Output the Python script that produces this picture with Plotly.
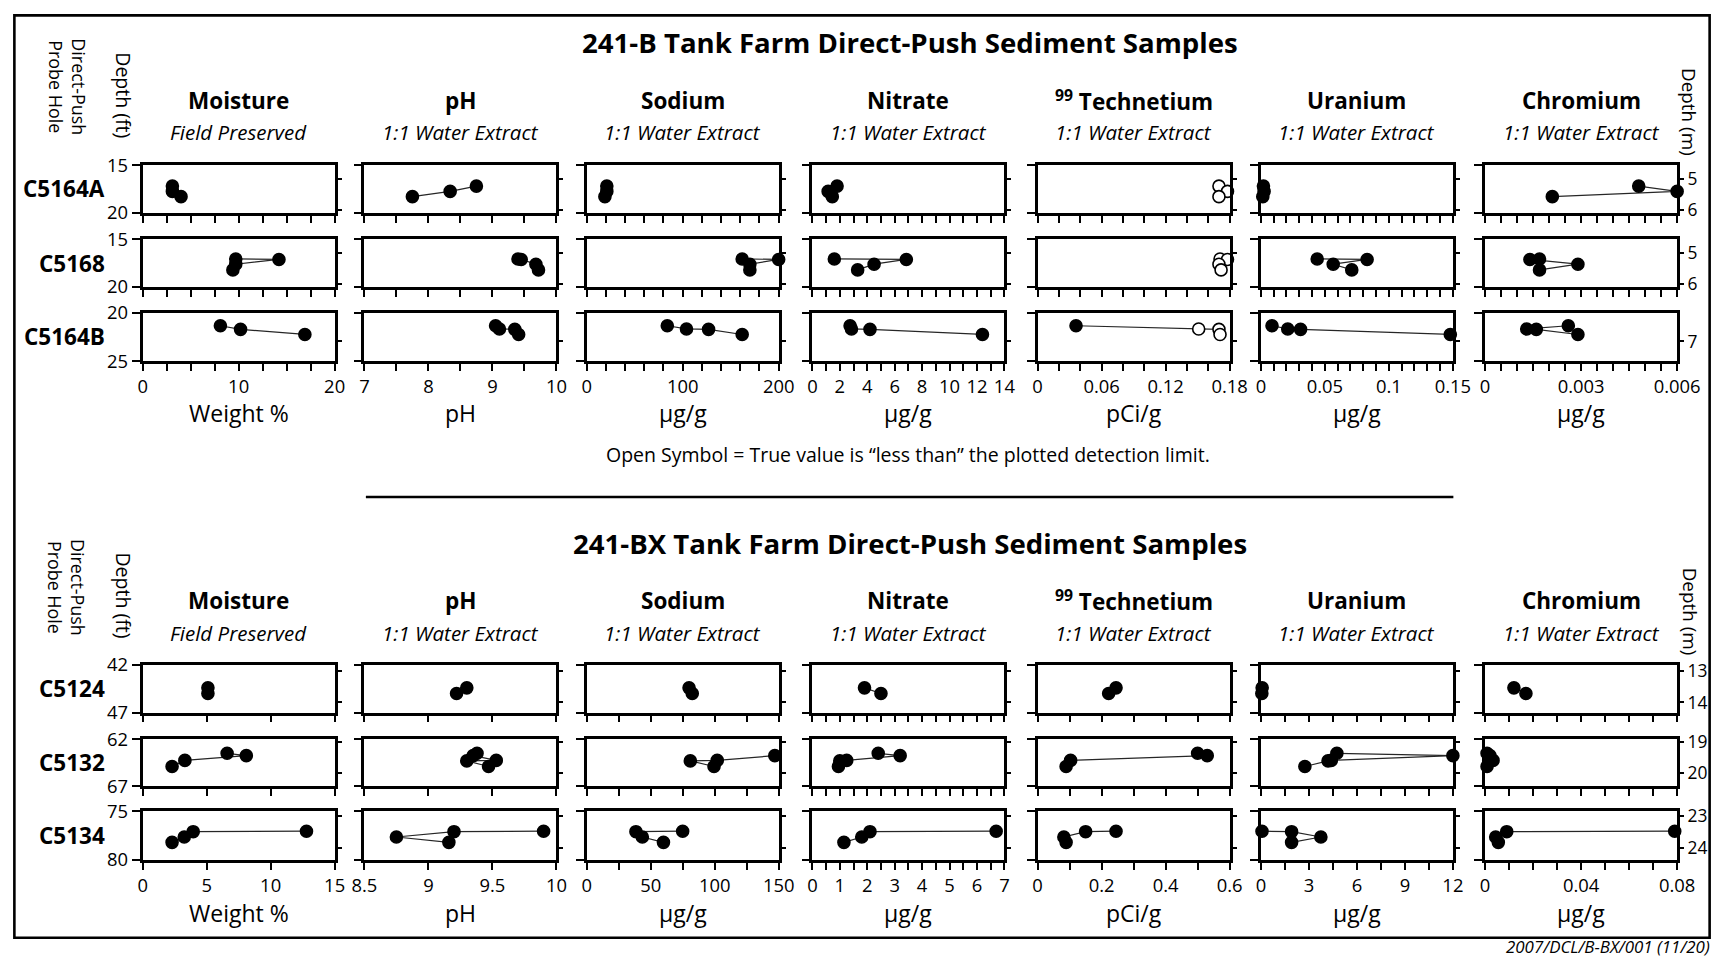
import plotly.graph_objects as go

# Window / figure geometry.  Positions below are taken from the reference in
# window pixels and mapped to the figure with a small calibration (the captured
# picture includes a thin border round the page, so the page is scaled a little).
WIN_W, WIN_H = 1734, 966
W, H = 1734, 966
CAP_PAD = 11.5
SX = (WIN_W + 2 * CAP_PAD) / WIN_W
SY = (WIN_H + 2 * CAP_PAD) / WIN_H
FT_PER_M = 3.28084
FONT = "Open Sans"

# ---------------- 241-B Tank Farm data ----------------
C5164A_depth_ft = [17.2, 17.75, 18.3]
C5164A_moisture = [3.1, 3.1, 4.0]
C5164A_ph = [8.75, 8.34, 7.75]
C5164A_sodium = [21, 21, 19]
C5164A_nitrate = [1.8, 1.15, 1.45]
C5164A_tc99 = [0.170, 0.178, 0.170]
C5164A_tc99_open = [True, True, True]
C5164A_uranium = [0.002, 0.0025, 0.0015]
C5164A_chromium = [0.0048, 0.006, 0.0021]

C5168_depth_ft = [17.05, 17.1, 17.6, 18.2]
C5168_moisture = [9.7, 14.2, 9.7, 9.4]
C5168_ph = [9.4, 9.45, 9.68, 9.72]
C5168_sodium = [162, 200, 170, 170]
C5168_nitrate = [1.6, 6.85, 4.5, 3.3]
C5168_tc99 = [0.171, 0.178, 0.170, 0.172]
C5168_tc99_open = [True, True, True, True]
C5168_uranium = [0.044, 0.083, 0.0565, 0.071]
C5168_chromium = [0.0017, 0.0014, 0.0029, 0.0017]

C5164B_depth_ft = [21.35, 21.68, 21.72, 22.25]
C5164B_moisture = [8.1, None, 10.2, 16.9]
C5164B_ph = [9.05, 9.11, 9.35, 9.41]
C5164B_sodium = [84, 104, 127, 162]
C5164B_nitrate = [2.75, 2.85, 4.2, 12.4]
C5164B_tc99 = [0.036, 0.151, 0.170, 0.171]
C5164B_tc99_open = [False, True, True, True]
C5164B_uranium = [0.0087, 0.021, 0.031, 0.148]
C5164B_chromium = [0.0026, 0.0013, 0.0016, 0.0029]

# ---------------- 241-BX Tank Farm data ----------------
C5124_depth_ft = [44.4, 45.0]
C5124_moisture = [5.1, 5.1]
C5124_ph = [9.30, 9.22]
C5124_sodium = [80, 82.5]
C5124_nitrate = [1.9, 2.5]
C5124_tc99 = [0.245, 0.222]
C5124_tc99_open = [False, False]
C5124_uranium = [0.08, 0.06]
C5124_chromium = [0.012, 0.017]

C5132_depth_ft = [63.5, 63.75, 64.25, 64.3, 64.9]
C5132_moisture = [6.6, 8.1, 3.3, None, 2.3]
C5132_ph = [9.38, 9.35, 9.53, 9.30, 9.47]
C5132_sodium = [151, 147, 102, 81, 99.5]
C5132_nitrate = [2.4, 3.2, 1.25, 1.0, 0.95]
C5132_tc99 = [0.50, 0.53, 0.103, None, 0.089]
C5132_tc99_open = [False, False, False, False, False]
C5132_uranium = [4.75, 12.0, 4.4, 4.2, 2.75]
C5132_chromium = [0.0008, 0.002, 0.0033, 0.0015, 0.0008]

C5134_depth_ft = [77.05, 77.1, 77.65, 78.2]
C5134_moisture = [12.8, 3.95, 3.25, 2.3]
C5134_ph = [9.90, 9.20, 8.75, 9.16]
C5134_sodium = [75, 38.5, 43.5, 60]
C5134_nitrate = [6.7, 2.1, 1.8, 1.15]
C5134_tc99 = [0.245, 0.15, 0.082, 0.089]
C5134_tc99_open = [False, False, False, False]
C5134_uranium = [0.07, 1.92, 3.75, 1.92]
C5134_chromium = [0.079, 0.009, 0.0044, 0.0055]

# ---------------- labels & axes ----------------
group_titles = ["241-B Tank Farm Direct-Push Sediment Samples",
                "241-BX Tank Farm Direct-Push Sediment Samples"]
panel_titles = ["Moisture", "pH", "Sodium", "Nitrate", "<sup>99</sup> Technetium", "Uranium", "Chromium"]
panel_subtitles = ["Field Preserved"] + ["1:1 Water Extract"] * 6
x_units = ["Weight %", "pH", "µg/g", "µg/g", "pCi/g", "µg/g", "µg/g"]

B_holes = ["C5164A", "C5168", "C5164B"]
BX_holes = ["C5124", "C5132", "C5134"]
B_depth_ranges = [(15, 20), (15, 20), (20, 25)]
BX_depth_ranges = [(42, 47), (62, 67), (75, 80)]
B_m_ticks = [[5, 6], [5, 6], [7]]
BX_m_ticks = [[13, 14], [19, 20], [23, 24]]

B_x_ranges = [[0, 20], [7, 10], [0, 200], [0, 14], [0, 0.18], [0, 0.15], [0, 0.006]]
B_x_tickvals = [[0, 10, 20], [7, 8, 9, 10], [0, 100, 200], [0, 2, 4, 6, 8, 10, 12, 14],
                [0, 0.06, 0.12, 0.18], [0, 0.05, 0.1, 0.15], [0, 0.003, 0.006]]
B_x_ticktext = [["0", "10", "20"], ["7", "8", "9", "10"], ["0", "100", "200"],
                ["0", "2", "4", "6", "8", "10", "12", "14"],
                ["0", "0.06", "0.12", "0.18"], ["0", "0.05", "0.1", "0.15"], ["0", "0.003", "0.006"]]
B_x_minor = [2.5, 0.5, 20, 1, 0.02, 0.01, 0.0005]

BX_x_ranges = [[0, 15], [8.5, 10], [0, 150], [0, 7], [0, 0.6], [0, 12], [0, 0.08]]
BX_x_tickvals = [[0, 5, 10, 15], [8.5, 9, 9.5, 10], [0, 50, 100, 150], [0, 1, 2, 3, 4, 5, 6, 7],
                 [0, 0.2, 0.4, 0.6], [0, 3, 6, 9, 12], [0, 0.04, 0.08]]
BX_x_ticktext = [["0", "5", "10", "15"], ["8.5", "9", "9.5", "10"], ["0", "50", "100", "150"],
                 ["0", "1", "2", "3", "4", "5", "6", "7"],
                 ["0", "0.2", "0.4", "0.6"], ["0", "3", "6", "9", "12"], ["0", "0.04", "0.08"]]
BX_x_minor = [None, None, 25, 0.5, 0.1, 1.5, 0.01]

footer = "2007/DCL/B-BX/001 (11/20)"
note = "Open Symbol = True value is “less than” the plotted detection limit."

# ---------------- build tables from the named lists ----------------
hole_data = {
    "C5164A": (C5164A_depth_ft, [C5164A_moisture, C5164A_ph, C5164A_sodium, C5164A_nitrate,
                                 C5164A_tc99, C5164A_uranium, C5164A_chromium], C5164A_tc99_open),
    "C5168": (C5168_depth_ft, [C5168_moisture, C5168_ph, C5168_sodium, C5168_nitrate,
                               C5168_tc99, C5168_uranium, C5168_chromium], C5168_tc99_open),
    "C5164B": (C5164B_depth_ft, [C5164B_moisture, C5164B_ph, C5164B_sodium, C5164B_nitrate,
                                 C5164B_tc99, C5164B_uranium, C5164B_chromium], C5164B_tc99_open),
    "C5124": (C5124_depth_ft, [C5124_moisture, C5124_ph, C5124_sodium, C5124_nitrate,
                               C5124_tc99, C5124_uranium, C5124_chromium], C5124_tc99_open),
    "C5132": (C5132_depth_ft, [C5132_moisture, C5132_ph, C5132_sodium, C5132_nitrate,
                               C5132_tc99, C5132_uranium, C5132_chromium], C5132_tc99_open),
    "C5134": (C5134_depth_ft, [C5134_moisture, C5134_ph, C5134_sodium, C5134_nitrate,
                               C5134_tc99, C5134_uranium, C5134_chromium], C5134_tc99_open),
}

groups = [
    dict(title=group_titles[0], holes=B_holes, dr=B_depth_ranges, mt=B_m_ticks, xr=B_x_ranges,
         xtv=B_x_tickvals, xtt=B_x_ticktext, xm=B_x_minor,
         rows=[(162.7, 210.7), (237.3, 285), (310.7, 359.3)], ttl_y=39.5, pt_y=98, st_y=130,
         xt_y=411.5, side_y=(84, 92.5, 109)),
    dict(title=group_titles[1], holes=BX_holes, dr=BX_depth_ranges, mt=BX_m_ticks, xr=BX_x_ranges,
         xtv=BX_x_tickvals, xtt=BX_x_ticktext, xm=BX_x_minor,
         rows=[(664, 711.7), (738.3, 785.7), (810.7, 859.3)], ttl_y=542, pt_y=599.5, st_y=632,
         xt_y=912.5, side_y=(586, 594, 610)),
]

col_left = [142, 365.5, 589.5, 817, 1044, 1269, 1495]
PW = 193.5


def page_x(s):
    return s * SX - CAP_PAD


def page_y(s):
    return s * SY - CAP_PAD


def px(s):  # window px -> paper fraction
    return min(max(page_x(s), 0), W) / W


def py(s):
    return 1 - min(max(page_y(s), 0), H) / H


def fs(n):  # font size compensated for the capture scale
    return round(n * SY, 1)


def key(prefix, n):
    return f"{prefix}axis" if n == 1 else f"{prefix}axis{n}"


def ref(prefix, n):
    return prefix if n == 1 else f"{prefix}{n}"


def ann(x, y, text, size, xanchor="center", angle=0):
    return dict(x=px(x), y=py(y), xref="paper", yref="paper", text=text, xanchor=xanchor,
                yanchor="middle", showarrow=False, textangle=angle, borderpad=0,
                font=dict(family=FONT, size=fs(size), color="black"))


fig = go.Figure()
layout = {}
annotations = []
tickfont = dict(family=FONT, size=fs(18), color="black")
mtickfont = dict(family=FONT, size=fs(17), color="black")

p = 0
for g in groups:
    for r, hole in enumerate(g["holes"]):
        depth, series, tc_open = hole_data[hole]
        top, bot = g["rows"][r]
        lo, hi = g["dr"][r]
        depth_m = [d / FT_PER_M for d in depth]
        for c in range(7):
            xi = p + 1
            yi = 2 * p + 1
            ym = 2 * p + 2
            xref_, yref_, ymref_ = ref("x", xi), ref("y", yi), ref("y", ym)
            vals = series[c]
            if c == 4:
                colors = ["white" if o else "black" for o in tc_open]
            else:
                colors = "black"
            # invisible companion trace so the metre axis exists on this panel
            fig.add_trace(go.Scatter(
                x=vals, y=depth_m, xaxis=xref_, yaxis=ymref_, mode="markers",
                marker=dict(opacity=0, size=1), hoverinfo="skip", showlegend=False))
            fig.add_trace(go.Scatter(
                x=vals, y=depth, xaxis=xref_, yaxis=yref_, mode="lines+markers",
                connectgaps=True, cliponaxis=False, showlegend=False,
                line=dict(color="#262626", width=1.2),
                marker=dict(size=12, color=colors, line=dict(color="black", width=1.6)),
            ))
            xa = dict(domain=[px(col_left[c]), px(col_left[c] + PW)], anchor=yref_,
                      range=g["xr"][c], tickmode="array", tickvals=g["xtv"][c],
                      ticktext=g["xtt"][c], showticklabels=(r == 2), ticks="outside",
                      ticklen=7, tickwidth=2, tickcolor="black", showline=True, linewidth=2.6,
                      linecolor="black", mirror=True, showgrid=False, zeroline=False,
                      tickfont=tickfont)
            if g["xm"][c] is not None:
                xa["minor"] = dict(tickmode="linear", tick0=g["xr"][c][0], dtick=g["xm"][c],
                                   ticks="outside", ticklen=7, tickwidth=2, tickcolor="black",
                                   showgrid=False)
            layout[key("x", xi)] = xa
            layout[key("y", yi)] = dict(
                domain=[py(bot), py(top)], anchor=xref_, range=[hi, lo], tickmode="array",
                tickvals=[lo, hi], ticktext=[str(lo), str(hi)], showticklabels=(c == 0),
                ticks="outside", ticklen=8, tickwidth=2, tickcolor="black", showline=True,
                linewidth=2.6, linecolor="black", mirror=True, showgrid=False, zeroline=False,
                tickfont=tickfont)
            layout[key("y", ym)] = dict(
                overlaying=yref_, anchor=xref_, side="right",
                range=[hi / FT_PER_M, lo / FT_PER_M], tickmode="array", tickvals=g["mt"][r],
                ticktext=[str(v) for v in g["mt"][r]], showticklabels=(c == 6),
                ticks="outside", ticklen=6, tickwidth=2, tickcolor="black", showline=False,
                showgrid=False, zeroline=False, tickfont=mtickfont)
            p += 1
        annotations.append(ann(105, (top + bot) / 2, f"<b>{hole}</b>", 22, xanchor="right"))
    annotations.append(ann(915, g["ttl_y"], f"<b>{g['title']}</b>", 27))
    for c in range(7):
        cx = col_left[c] + PW / 2
        annotations.append(ann(cx, g["pt_y"], f"<b>{panel_titles[c]}</b>", 22))
        annotations.append(ann(cx, g["st_y"], f"<i>{panel_subtitles[c]}</i>", 20))
        annotations.append(ann(cx, g["xt_y"], x_units[c], 22.5))
    sy = g["side_y"]
    annotations.append(ann(66, sy[0], "Direct-Push<br>Probe Hole", 17.5, angle=90))
    annotations.append(ann(123, sy[1], "Depth (ft)", 19, angle=90))
    annotations.append(ann(1701, sy[2], "Depth (m)", 18.5, angle=90))

annotations.append(ann(913, 452.5, note, 19))
annotations.append(ann(1725, 946.5, f"<i>{footer}</i>", 16.5, xanchor="right"))

shapes = [
    dict(type="rect", xref="paper", yref="paper", x0=1.4 / W, y0=1 - page_y(937.5) / H,
         x1=1 - 1.4 / W, y1=1 - 1.4 / H, line=dict(color="black", width=2.6)),
    dict(type="line", xref="paper", yref="paper", x0=px(367), y0=py(495.5), x1=px(1463),
         y1=py(495.5), line=dict(color="black", width=2.6)),
]

fig.update_layout(width=W, height=H, autosize=False, margin=dict(l=0, r=0, t=0, b=0),
                  paper_bgcolor="white", plot_bgcolor="white", showlegend=False,
                  font=dict(family=FONT, color="black"),
                  annotations=annotations, shapes=shapes, **layout)

fig.write_html("out.html", config={"responsive": False, "displayModeBar": False},
               post_script="document.body.style.margin='0';"
                           "document.documentElement.style.overflow='hidden';")
